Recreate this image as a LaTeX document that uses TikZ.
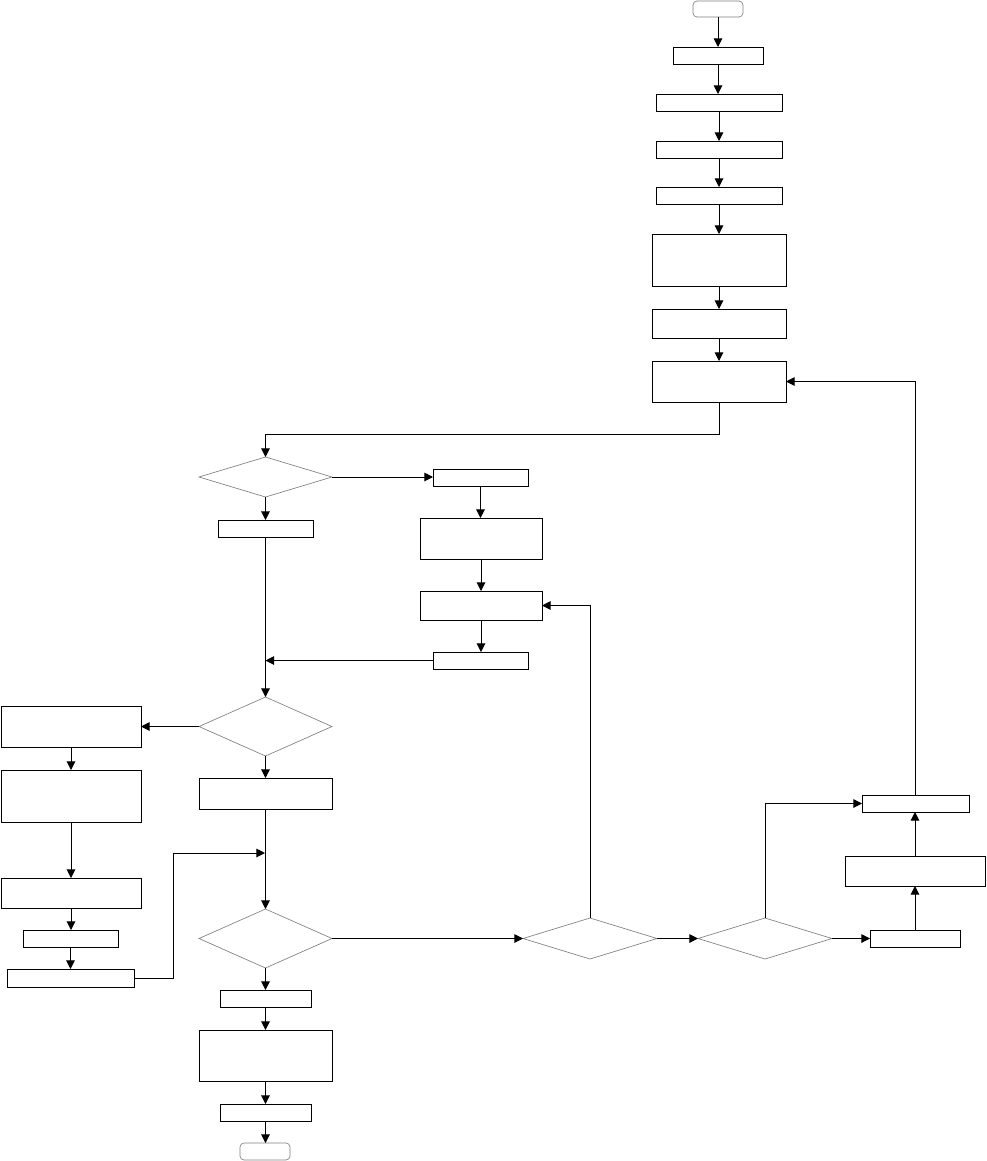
\documentclass[tikz,border=0pt]{standalone}
\usetikzlibrary{shapes.geometric,arrows.meta}
\tikzset{
  x=0.75pt, y=-0.75pt,
  box/.style={draw=black, line width=0.75pt, rectangle, inner sep=0pt, outer sep=0pt},
  dia/.style={draw=gray, line width=0.5pt, diamond, inner sep=0pt, outer sep=0pt},
  term/.style={draw=gray, line width=0.5pt, rectangle, rounded corners=3pt, inner sep=0pt, outer sep=0pt},
  arr/.style={line width=0.75pt, -{Triangle[length=6.5pt,width=6.5pt]}},
  ln/.style={line width=0.75pt}
}
\newcommand{\mkbox}[6]{\node[#1, minimum width={(#5-#3)*0.75pt}, minimum height={(#6-#4)*0.75pt}] (#2) at ({(#3+#5)/2},{(#4+#6)/2}) {};}
\newcommand{\vdn}[2]{\draw[arr] (#1.south) -- (#1.south |- #2.north);}
\newcommand{\vup}[2]{\draw[arr] (#1.north) -- (#1.north |- #2.south);}
\newcommand{\hr}[2]{\draw[arr] (#1.east) -- (#1.east -| #2.west);}
\begin{document}
\begin{tikzpicture}
\useasboundingbox (0,0) rectangle (986,1161);
% right top column
\mkbox{term}{start}{693}{1}{743}{17}
\mkbox{box}{b1}{673}{47}{763}{64}
\mkbox{box}{b2}{656}{94}{782}{111}
\mkbox{box}{b3}{656}{141}{782}{158}
\mkbox{box}{b4}{656}{187}{782}{204}
\mkbox{box}{b5}{652}{234}{786}{286}
\mkbox{box}{b6}{652}{309}{786}{338}
\mkbox{box}{b7}{652}{361}{786}{402}
% decision 1
\mkbox{dia}{d1}{199}{457}{332}{497}
\mkbox{box}{c0}{218}{520}{313}{537}
\mkbox{box}{r1}{433}{469}{528}{486}
\mkbox{box}{r2}{420}{518}{542}{559}
\mkbox{box}{r3}{420}{591}{542}{620}
\mkbox{box}{r4}{433}{652}{528}{669}
% decision 2
\mkbox{dia}{d2}{199}{697}{332}{756}
\mkbox{box}{l1}{1}{706}{141}{747}
\mkbox{box}{l2}{1}{770}{141}{822}
\mkbox{box}{l3}{1}{878}{141}{908}
\mkbox{box}{l4}{23}{930}{118}{947}
\mkbox{box}{l5}{7}{969}{134}{987}
\mkbox{box}{c1}{199}{778}{332}{809}
% decision 3
\mkbox{dia}{d3}{199}{909}{332}{968}
\mkbox{box}{e1}{220}{990}{311}{1007}
\mkbox{box}{e2}{199}{1030}{332}{1081}
\mkbox{box}{e3}{220}{1104}{311}{1121}
\mkbox{term}{stop}{240}{1143}{290}{1160}
% decisions 4,5 and right column
\mkbox{dia}{d4}{523}{918}{657}{959}
\mkbox{dia}{d5}{698}{918}{832}{959}
\mkbox{box}{q1}{870}{930}{960}{947}
\mkbox{box}{q2}{845}{856}{985}{886}
\mkbox{box}{q3}{862}{795}{969}{812}
% connectors
\vdn{start}{b1}
\vdn{b1}{b2}
\vdn{b2}{b3}
\vdn{b3}{b4}
\vdn{b4}{b5}
\vdn{b5}{b6}
\vdn{b6}{b7}
\draw[arr] (b7.south) -- ++(0,32) -| (d1.north);
\hr{d1}{r1}
\vdn{d1}{c0}
\vdn{r1}{r2}
\vdn{r2}{r3}
\vdn{r3}{r4}
\coordinate (m1) at (c0.south |- r4.west);
\draw[arr] (r4.west) -- (m1);
\vdn{c0}{d2}
\draw[arr] (d2.west) -- (d2.west -| l1.east);
\vdn{d2}{c1}
\vdn{l1}{l2}
\vdn{l2}{l3}
\vdn{l3}{l4}
\vdn{l4}{l5}
\coordinate (m2) at (265,853);
\draw[arr] (l5.east) -- (173,978) |- (m2);
\vdn{c1}{d3}
\vdn{d3}{e1}
\vdn{e1}{e2}
\vdn{e2}{e3}
\vdn{e3}{stop}
\hr{d3}{d4}
\hr{d4}{d5}
\draw[arr] (d4.north) |- (r3.east);
\hr{d5}{q1}
\draw[arr] (d5.north) |- (q3.west);
\vup{q1}{q2}
\vup{q2}{q3}
\draw[arr] (q3.north) |- (b7.east);
\end{tikzpicture}
\end{document}
